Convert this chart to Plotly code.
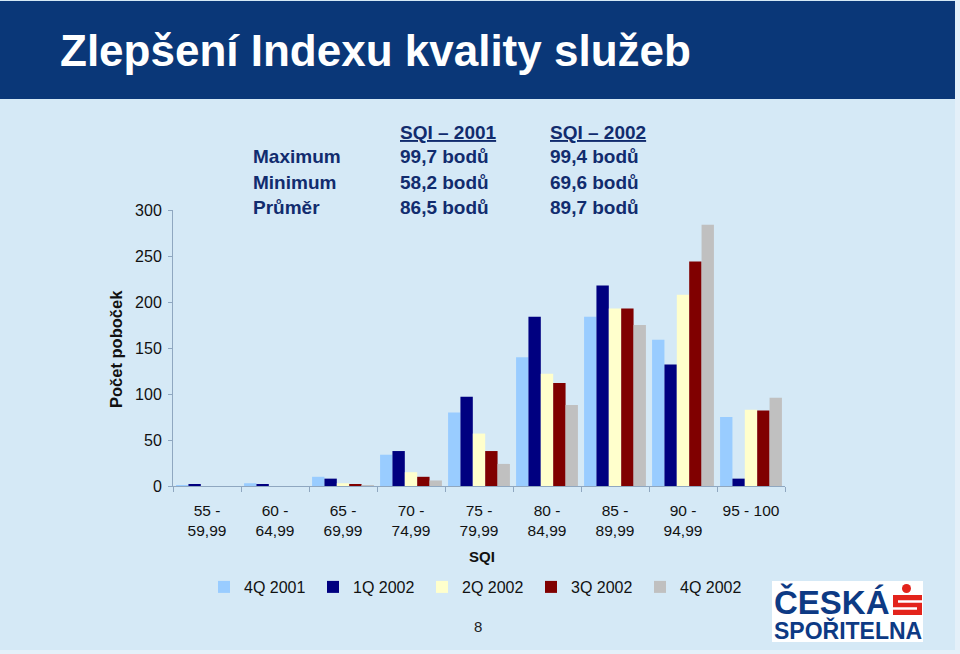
import plotly.graph_objects as go

# SQI bands on the x axis
categories = ["55 -<br>59,99", "60 -<br>64,99", "65 -<br>69,99", "70 -<br>74,99",
              "75 -<br>79,99", "80 -<br>84,99", "85 -<br>89,99", "90 -<br>94,99",
              "95 - 100"]

# number of branches per SQI band, per quarter
q4_2001 = [1, 3, 10, 34, 80, 140, 184, 159, 75]
q1_2002 = [2, 2, 8, 38, 97, 184, 218, 132, 8]
q2_2002 = [0, 0, 3, 15, 57, 122, 193, 208, 83]
q3_2002 = [0, 0, 2, 10, 38, 112, 193, 244, 82]
q4_2002 = [0, 0, 1, 6, 24, 88, 175, 284, 96]

series_names = ["4Q 2001", "1Q 2002", "2Q 2002", "3Q 2002", "4Q 2002"]
series_colors = ["#99ccff", "#000080", "#ffffcc", "#800000", "#c0c0c0"]

# summary table
table_rows = ["Maximum", "Minimum", "Průměr"]
sqi_2001 = ["99,7 bodů", "58,2 bodů", "86,5 bodů"]
sqi_2002 = ["99,4 bodů", "69,6 bodů", "89,7 bodů"]

W, H = 960, 654
BG = "#d5e9f6"
NAVY = "#0a3778"
TEXT = "#112c6e"


def px(x):
    return x / W


def py(y):
    return 1 - y / H


fig = go.Figure()
for name, values, color in zip(series_names,
                               [q4_2001, q1_2002, q2_2002, q3_2002, q4_2002],
                               series_colors):
    fig.add_trace(go.Bar(x=categories, y=values, name=name,
                         marker={"color": color, "line": {"width": 0}}))

axis_color = "#8fa7c0"
fig.update_layout(
    width=W, height=H,
    margin={"l": 0, "r": 0, "t": 0, "b": 0},
    paper_bgcolor=BG, plot_bgcolor=BG,
    barmode="group", bargap=0.09, bargroupgap=0,
    font={"family": "Liberation Sans, Arial, sans-serif", "size": 15, "color": "#111111"},
    showlegend=True,
    legend={"orientation": "h", "x": px(204), "y": py(587), "xanchor": "left",
            "yanchor": "middle", "font": {"size": 16, "color": "#111111"},
            "bgcolor": "rgba(0,0,0,0)", "itemwidth": 30,
            "entrywidth": 64, "entrywidthmode": "pixels"},
    xaxis={"domain": [px(173), px(785)], "showgrid": False, "showline": True,
           "linecolor": axis_color, "linewidth": 1, "ticks": "outside",
           "tickson": "boundaries", "ticklen": 5, "tickcolor": axis_color,
           "automargin": False, "tickfont": {"size": 15.5, "color": "#111111"},
           "ticklabelstandoff": 10},
    yaxis={"domain": [py(486), py(210)], "range": [0, 300], "dtick": 50,
           "showgrid": False, "showline": True, "linecolor": axis_color,
           "linewidth": 1, "ticks": "outside", "ticklen": 4, "tickcolor": axis_color,
           "zeroline": False, "automargin": False,
           "tickfont": {"size": 16, "color": "#111111"}, "ticklabelstandoff": 3},
)

shapes = [
    # title bar
    dict(type="rect", xref="paper", yref="paper", x0=0, x1=px(955), y0=py(99), y1=py(1),
         fillcolor=NAVY, line={"width": 0}, layer="below"),
    # lighter slide edges
    dict(type="rect", xref="paper", yref="paper", x0=px(955), x1=1, y0=0, y1=1,
         fillcolor="#e4f0f9", line={"width": 0}, layer="below"),
    dict(type="rect", xref="paper", yref="paper", x0=0, x1=1, y0=0, y1=py(650),
         fillcolor="#e4f0f9", line={"width": 0}, layer="below"),
    # logo box
    dict(type="rect", xref="paper", yref="paper", x0=px(772), x1=px(923), y0=py(642),
         y1=py(581), fillcolor="white", line={"width": 0}),
    # red S symbol
    dict(type="circle", xref="paper", yref="paper", x0=px(902), x1=px(911), y0=py(593),
         y1=py(584), fillcolor="#e3231b", line={"width": 0}),
    dict(type="rect", xref="paper", yref="paper", x0=px(893), x1=px(922), y0=py(615),
         y1=py(595), fillcolor="#e3231b", line={"width": 0}),
    dict(type="line", xref="paper", yref="paper", x0=px(898), x1=px(922), y0=py(601.5),
         y1=py(601.5), line={"color": "white", "width": 2.5}),
    dict(type="line", xref="paper", yref="paper", x0=px(893), x1=px(917), y0=py(608.5),
         y1=py(608.5), line={"color": "white", "width": 2.5}),
]

annotations = [
    dict(text="<b>Zlepšení Indexu kvality služeb</b>", x=px(58), y=py(50),
         xanchor="left", yanchor="middle",
         font={"size": 44, "color": "white"}),
    dict(text="<b><u>SQI – 2001</u></b>", x=px(398), y=py(133), xanchor="left",
         yanchor="middle", font={"size": 19, "color": TEXT}),
    dict(text="<b><u>SQI – 2002</u></b>", x=px(548), y=py(133), xanchor="left",
         yanchor="middle", font={"size": 19, "color": TEXT}),
    dict(text="<b>Počet poboček</b>", x=px(116), y=py(349), textangle=-90,
         xanchor="center", yanchor="middle", font={"size": 16.5, "color": "#111111"}),
    dict(text="<b>SQI</b>", x=px(482), y=py(556), xanchor="center", yanchor="middle",
         font={"size": 15, "color": "#111111"}),
    dict(text="8", x=px(478), y=py(626), xanchor="center", yanchor="middle",
         font={"size": 15, "color": "#222222"}),
    dict(text="<b>ČESKÁ</b>", x=px(772), y=py(602), xanchor="left", yanchor="middle",
         font={"size": 33, "color": "#0d3a84"}),
    dict(text="<b>SPOŘITELNA</b>", x=px(772), y=py(630), xanchor="left",
         yanchor="middle", font={"size": 23, "color": "#0d3a84"}),
]

for i, label in enumerate(table_rows):
    y = py(157 + i * 25)
    annotations.append(dict(text=f"<b>{label}</b>", x=px(251), y=y, xanchor="left",
                            yanchor="middle", font={"size": 19, "color": TEXT}))
    annotations.append(dict(text=f"<b>{sqi_2001[i]}</b>", x=px(398), y=y,
                            xanchor="left", yanchor="middle",
                            font={"size": 19, "color": TEXT}))
    annotations.append(dict(text=f"<b>{sqi_2002[i]}</b>", x=px(548), y=y,
                            xanchor="left", yanchor="middle",
                            font={"size": 19, "color": TEXT}))

for a in annotations:
    a.update(xref="paper", yref="paper", showarrow=False)

fig.update_layout(shapes=shapes, annotations=annotations)
fig.write_html("out.html", config={"displayModeBar": False},
               post_script="document.body.style.margin = '0';")
